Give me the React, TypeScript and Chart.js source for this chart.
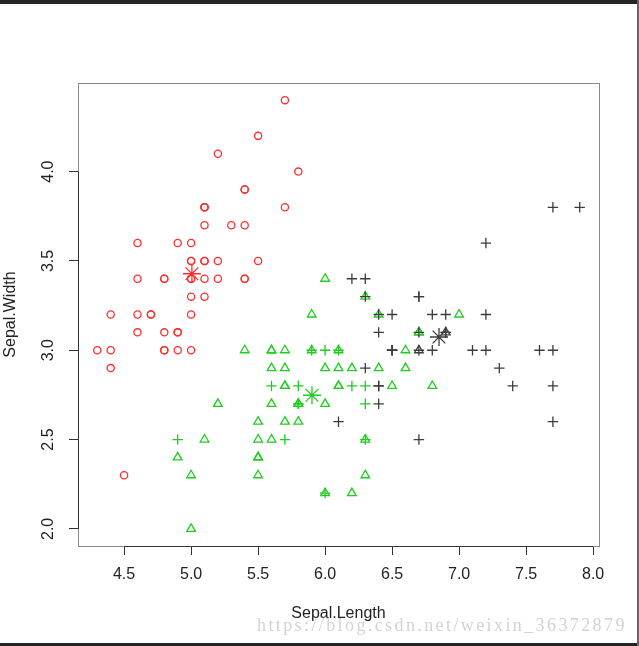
import React, { useEffect, useRef } from 'react';
import { Chart, registerables } from 'chart.js';

Chart.register(...registerables);

// iris data: Sepal.Length / Sepal.Width per species
const setosaLength = [5.1, 4.9, 4.7, 4.6, 5.0, 5.4, 4.6, 5.0, 4.4, 4.9, 5.4, 4.8, 4.8, 4.3, 5.8, 5.7, 5.4, 5.1, 5.7, 5.1, 5.4, 5.1, 4.6, 5.1, 4.8, 5.0, 5.0, 5.2, 5.2, 4.7, 4.8, 5.4, 5.2, 5.5, 4.9, 5.0, 5.5, 4.9, 4.4, 5.1, 5.0, 4.5, 4.4, 5.0, 5.1, 4.8, 5.1, 4.6, 5.3, 5.0];
const setosaWidth = [3.5, 3.0, 3.2, 3.1, 3.6, 3.9, 3.4, 3.4, 2.9, 3.1, 3.7, 3.4, 3.0, 3.0, 4.0, 4.4, 3.9, 3.5, 3.8, 3.8, 3.4, 3.7, 3.6, 3.3, 3.4, 3.0, 3.4, 3.5, 3.4, 3.2, 3.1, 3.4, 4.1, 4.2, 3.1, 3.2, 3.5, 3.6, 3.0, 3.4, 3.5, 2.3, 3.2, 3.5, 3.8, 3.0, 3.8, 3.2, 3.7, 3.3];
const setosaCluster = [1, 1, 1, 1, 1, 1, 1, 1, 1, 1, 1, 1, 1, 1, 1, 1, 1, 1, 1, 1, 1, 1, 1, 1, 1, 1, 1, 1, 1, 1, 1, 1, 1, 1, 1, 1, 1, 1, 1, 1, 1, 1, 1, 1, 1, 1, 1, 1, 1, 1];

const versicolorLength = [7.0, 6.4, 6.9, 5.5, 6.5, 5.7, 6.3, 4.9, 6.6, 5.2, 5.0, 5.9, 6.0, 6.1, 5.6, 6.7, 5.6, 5.8, 6.2, 5.6, 5.9, 6.1, 6.3, 6.1, 6.4, 6.6, 6.8, 6.7, 6.0, 5.7, 5.5, 5.5, 5.8, 6.0, 5.4, 6.0, 6.7, 6.3, 5.6, 5.5, 5.5, 6.1, 5.8, 5.0, 5.6, 5.7, 5.7, 6.2, 5.1, 5.7];
const versicolorWidth = [3.2, 3.2, 3.1, 2.3, 2.8, 2.8, 3.3, 2.4, 2.9, 2.7, 2.0, 3.0, 2.2, 2.9, 2.9, 3.1, 3.0, 2.7, 2.2, 2.5, 3.2, 2.8, 2.5, 2.8, 2.9, 3.0, 2.8, 3.0, 2.9, 2.6, 2.4, 2.4, 2.7, 2.7, 3.0, 3.4, 3.1, 2.3, 3.0, 2.5, 2.6, 3.0, 2.6, 2.3, 2.7, 3.0, 2.9, 2.9, 2.5, 2.8];
const versicolorCluster = [2, 2, 3, 2, 2, 2, 2, 2, 2, 2, 2, 2, 2, 2, 2, 2, 2, 2, 2, 2, 2, 2, 2, 2, 2, 2, 2, 3, 2, 2, 2, 2, 2, 2, 2, 2, 2, 2, 2, 2, 2, 2, 2, 2, 2, 2, 2, 2, 2, 2];

const virginicaLength = [6.3, 5.8, 7.1, 6.3, 6.5, 7.6, 4.9, 7.3, 6.7, 7.2, 6.5, 6.4, 6.8, 5.7, 5.8, 6.4, 6.5, 7.7, 7.7, 6.0, 6.9, 5.6, 7.7, 6.3, 6.7, 7.2, 6.2, 6.1, 6.4, 7.2, 7.4, 7.9, 6.4, 6.3, 6.1, 7.7, 6.3, 6.4, 6.0, 6.9, 6.7, 6.9, 5.8, 6.8, 6.7, 6.7, 6.3, 6.5, 6.2, 5.9];
const virginicaWidth = [3.3, 2.7, 3.0, 2.9, 3.0, 3.0, 2.5, 2.9, 2.5, 3.6, 3.2, 2.7, 3.0, 2.5, 2.8, 3.2, 3.0, 3.8, 2.6, 2.2, 3.2, 2.8, 2.8, 2.7, 3.3, 3.2, 2.8, 3.0, 2.8, 3.0, 2.8, 3.8, 2.8, 2.8, 2.6, 3.0, 3.4, 3.1, 3.0, 3.1, 3.1, 3.1, 2.7, 3.2, 3.3, 3.0, 2.5, 3.0, 3.4, 3.0];
const virginicaCluster = [3, 2, 3, 3, 3, 3, 2, 3, 3, 3, 3, 3, 3, 2, 2, 3, 3, 3, 3, 2, 3, 2, 3, 2, 3, 3, 2, 2, 3, 3, 3, 3, 3, 2, 3, 3, 3, 3, 2, 3, 3, 3, 2, 3, 3, 3, 2, 3, 3, 2];

// k-means centers (cluster 1, 2, 3)
const centerLength = [5.006, 5.902, 6.85];
const centerWidth = [3.428, 2.748, 3.074];

const xTickValues = [4.5, 5.0, 5.5, 6.0, 6.5, 7.0, 7.5, 8.0];
const yTickValues = [2.0, 2.5, 3.0, 3.5, 4.0];

const clusterColors = ['rgb(255,45,45)', 'rgb(30,205,30)', 'rgb(60,60,60)'];
const FONT = "'Liberation Sans', Arial, Helvetica, sans-serif";

function pick(L: number[], W: number[], C: number[], c: number) {
  const out: { x: number; y: number }[] = [];
  for (let i = 0; i < L.length; i++) if (C[i] === c) out.push({ x: L[i], y: W[i] });
  return out;
}

const boxPlugin = {
  id: 'rbox',
  afterDraw(chart: any) {
    const { ctx, chartArea: a, scales } = chart;
    ctx.save();
    ctx.lineWidth = 1;
    ctx.strokeStyle = '#8a8a8a';
    ctx.strokeRect(Math.round(a.left) + 0.5, Math.round(a.top) + 0.5, Math.round(a.right - a.left), Math.round(a.bottom - a.top));
    ctx.strokeStyle = '#333';
    const xs = scales.x;
    const ys = scales.y;
    const yb = Math.round(a.bottom) + 0.5;
    ctx.beginPath();
    ctx.moveTo(xs.getPixelForValue(xTickValues[0]), yb);
    ctx.lineTo(xs.getPixelForValue(xTickValues[xTickValues.length - 1]), yb);
    const xl = Math.round(a.left) + 0.5;
    ctx.moveTo(xl, ys.getPixelForValue(yTickValues[0]));
    ctx.lineTo(xl, ys.getPixelForValue(yTickValues[yTickValues.length - 1]));
    ctx.stroke();
    ctx.restore();
  },
};

export default function App() {
  const ref = useRef<HTMLCanvasElement>(null);
  useEffect(() => {
    const canvas = ref.current;
    if (!canvas) return;
    const pt = (data: any[], style: string, color: string, r: number, order: number) => ({
      data,
      pointStyle: style,
      pointRadius: r,
      pointHoverRadius: r,
      pointBorderWidth: 1.3,
      borderColor: color,
      backgroundColor: 'rgba(0,0,0,0)',
      showLine: false,
      order,
    });
    const centers = centerLength.map((x, i) => ({ x, y: centerWidth[i] }));
    const chart = new Chart(canvas, {
      type: 'scatter',
      data: {
        datasets: [
          pt(pick(setosaLength, setosaWidth, setosaCluster, 1), 'circle', clusterColors[0], 3.6, 5),
          pt(pick(versicolorLength, versicolorWidth, versicolorCluster, 2), 'triangle', clusterColors[1], 5, 4),
          pt(pick(versicolorLength, versicolorWidth, versicolorCluster, 3), 'triangle', clusterColors[2], 5, 4),
          pt(pick(virginicaLength, virginicaWidth, virginicaCluster, 2), 'cross', clusterColors[1], 5.2, 3),
          pt(pick(virginicaLength, virginicaWidth, virginicaCluster, 3), 'cross', clusterColors[2], 5.2, 3),
          {
            data: centers,
            pointStyle: 'star',
            pointRadius: 9,
            pointHoverRadius: 9,
            pointBorderWidth: 1.3,
            borderColor: clusterColors,
            pointBorderColor: clusterColors,
            backgroundColor: 'rgba(0,0,0,0)',
            showLine: false,
            order: 0,
          },
        ] as any,
      },
      options: {
        responsive: false,
        animation: false,
        devicePixelRatio: 1,
        events: [],
        layout: { padding: { left: 0, top: 83, right: 40, bottom: 0 } },
        plugins: { legend: { display: false }, tooltip: { enabled: false } },
        scales: {
          x: {
            type: 'linear',
            min: 4.156,
            max: 8.044,
            afterFit: (s: any) => { s.height = 100; },
            afterBuildTicks: (s: any) => { s.ticks = xTickValues.map((v) => ({ value: v })); },
            grid: { drawOnChartArea: false, drawTicks: true, tickLength: 9, color: '#333', lineWidth: 1 },
            border: { display: false },
            ticks: {
              padding: 10,
              color: '#222',
              font: { family: FONT, size: 16 },
              autoSkip: false,
              maxRotation: 0,
              minRotation: 0,
              callback: (v: any) => Number(v).toFixed(1),
            },
            title: { display: true, text: 'Sepal.Length', color: '#222', font: { family: FONT, size: 16 }, padding: { top: 0, bottom: 23 } },
          },
          y: {
            type: 'linear',
            min: 1.904,
            max: 4.496,
            afterFit: (s: any) => { s.width = 78; },
            afterBuildTicks: (s: any) => { s.ticks = yTickValues.map((v) => ({ value: v })); },
            grid: { drawOnChartArea: false, drawTicks: true, tickLength: 9, color: '#333', lineWidth: 1 },
            border: { display: false },
            ticks: {
              padding: 9,
              color: '#222',
              crossAlign: 'center',
              font: { family: FONT, size: 16 },
              autoSkip: false,
              minRotation: 90,
              maxRotation: 90,
              callback: (v: any) => Number(v).toFixed(1),
            },
            title: { display: true, text: 'Sepal.Width', color: '#222', font: { family: FONT, size: 16 }, padding: { top: 1, bottom: 0 } },
          },
        },
      } as any,
      plugins: [boxPlugin],
    });
    return () => chart.destroy();
  }, []);

  return (
    <div style={{ position: 'absolute', left: 0, top: 0, width: 639, height: 646, background: '#fff', overflow: 'hidden' }}>
      <canvas ref={ref} width={639} height={646} style={{ position: 'absolute', left: 0, top: 0, width: 639, height: 646 }} />
      <div style={{ position: 'absolute', left: 0, top: 0, width: 639, height: 4, background: '#242424' }} />
      <div style={{ position: 'absolute', left: 0, top: 643, width: 639, height: 3, background: '#242424' }} />
      <div style={{ position: 'absolute', left: 637, top: 0, width: 2, height: 646, background: '#666' }} />
      <div
        style={{
          position: 'absolute',
          left: 257,
          top: 614,
          fontFamily: "'Liberation Serif', 'DejaVu Serif', serif",
          fontSize: '18px',
          letterSpacing: '2.4px',
          lineHeight: '22px',
          color: '#d3d3ce',
          whiteSpace: 'nowrap',
        }}
      >
        https://blog.csdn.net/weixin_36372879
      </div>
    </div>
  );
}
